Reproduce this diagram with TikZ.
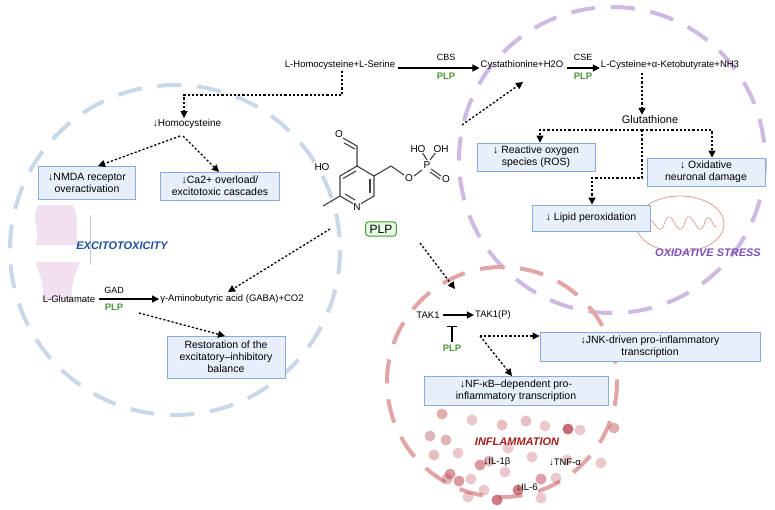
\documentclass[tikz,border=0pt]{standalone}
\usepackage{fontspec}
\setmainfont{Liberation Sans}
\usetikzlibrary{arrows.meta}
\definecolor{bx}{RGB}{231,239,251}
\definecolor{bxb}{RGB}{140,170,215}
\definecolor{plpg}{RGB}{80,150,60}
\definecolor{cblue}{RGB}{200,216,232}
\definecolor{cpurp}{RGB}{205,185,225}
\definecolor{cred}{RGB}{225,165,165}
\definecolor{dotc}{RGB}{185,70,80}
\tikzset{
 txt/.style={font=\fontsize{9.5}{11}\selectfont, inner sep=1pt, align=center},
 box/.style={txt, font=\fontsize{10.5}{12}\selectfont, draw=bxb, fill=bx, line width=0.9pt, minimum height=28pt, inner xsep=3pt},
 dots/.style={dash pattern=on 2.2pt off 2pt, line width=1.3pt, -{Triangle[length=7pt,width=7pt]}},
 solidarr/.style={line width=1.2pt, -{Triangle[length=7pt,width=7pt]}},
 enz/.style={font=\fontsize{9}{10}\selectfont, inner sep=0pt},
 plpl/.style={font=\bfseries\fontsize{9.5}{10}\selectfont, text=plpg, inner sep=0pt},
 ring/.style={dash pattern=on 24pt off 16pt, line width=4pt},
 bond/.style={line width=1.1pt, draw=black!75},
 atom/.style={font=\fontsize{10}{11}\selectfont, inner sep=0.5pt, fill=white},
 lab/.style={font=\bfseries\itshape\fontsize{11}{12}\selectfont}
}
\begin{document}
\begin{tikzpicture}[x=1pt,y=-1pt]
\useasboundingbox (0,0) rectangle (775,509);
% big dashed circles
\draw[ring, cblue] (175,250) circle (165);
\draw[ring, cpurp] (612,160) circle (153);
\draw[ring, cred] (502,382) circle (115);
% inflammation dots
\foreach \x/\y/\c in {442/414/45,472/420/30,430/436/40,446/440/40,434/455/35,458/453/30,447/479/40,459/481/55,471/479/30,480/465/55,489/461/40,502/425/35,508/448/30,526/421/35,545/426/30,568/429/80,580/430/30,614/428/45,567/460/30,601/463/30,532/457/30,541/479/50,505/472/30,518/490/70,484/490/30,468/497/30,497/500/70,541/498/30,450/474/55,556/478/30}
  \fill[dotc, opacity=\c/100] (\x,\y) circle (5.5);
% mitochondrion
\draw[cred!80!brown, line width=0.8pt] (680,224) ellipse (44 and 28);
\draw[cred!80!brown, line width=0.7pt] (645,226) .. controls (652,205) and (658,245) .. (665,222) .. controls (672,202) and (678,246) .. (685,222) .. controls (692,202) and (698,246) .. (705,222) .. controls (710,208) and (714,232) .. (716,226);
% synapse icon
\fill[violet!12] (38,205) .. controls (30,220) and (42,235) .. (35,245) -- (80,245) .. controls (72,235) and (82,220) .. (72,205) -- cycle;
\fill[violet!12] (35,262) .. controls (40,275) and (45,285) .. (42,300) -- (72,300) .. controls (70,285) and (75,275) .. (80,262) -- cycle;
\draw[violet!25, line width=1pt] (90,215) -- (90,265);
\node[txt, lab, text={rgb,255:red,30;green,80;blue,150}] (exc) at (122,246) {EXCITOTOXICITY};
\node[txt, lab, text={rgb,255:red,125;green,80;blue,185}] (oxs) at (708,253) {OXIDATIVE STRESS};
\node[txt, lab, text={rgb,255:red,160;green,30;blue,30}] (infl) at (517,442) {INFLAMMATION};
% top pathway
\node[txt] (hcs) at (340,65) {L-Homocysteine+L-Serine};
\node[txt] (cys) at (522,65) {Cystathionine+H2O};
\node[txt] (lcy) at (670,65) {L-Cysteine+α-Ketobutyrate+NH3};
\draw[solidarr] (hcs.east) ++(2,3) coordinate (a1) -- (cys.west |- a1);
\node[enz] (cbs) at (446,57) {CBS};
\node[plpl] (p1) at (446,76) {PLP};
\draw[solidarr] (cys.east) ++(2,3) coordinate (a2) -- (lcy.west |- a2);
\node[enz] (cse) at (583,57) {CSE};
\node[plpl] (p2) at (583,76) {PLP};
\node[txt, font=\fontsize{11}{12}\selectfont] (glu) at (650,120) {Glutathione};
\draw[dots] (642,73) coordinate (g0) -- (g0 |- glu.north);
\node[box, minimum width=118pt] (ros) at (536,157) {↓ Reactive oxygen\\species (ROS)};
\node[box, minimum width=118pt] (oxd) at (706,172) {↓ Oxidative\\neuronal damage};
\node[box, minimum width=118pt, minimum height=26pt] (lip) at (591,218) {↓ Lipid peroxidation};
\coordinate (gb) at (642,130);
\draw[dots] (gb) -| (ros.north -| 540,0);
\draw[dots] (gb) -| (oxd.north -| 712,0);
\draw[dots] (gb) -- (642,178) -| (lip.north -| 592,0);
% molecule
\coordinate (r1) at (357,166); \coordinate (r2) at (374,176); \coordinate (r3) at (374,196);
\coordinate (r4) at (357,206); \coordinate (r5) at (340,196); \coordinate (r6) at (340,176);
\draw[bond] (r1) -- (r2) -- (r3) -- (r4) -- (r5) -- (r6) -- cycle;
\draw[bond] (356,171) -- (343,178.5);
\draw[bond] (370,179) -- (370,193);
\draw[bond] (345,194) -- (355,200);
\draw[bond] (r1) -- (357,146) -- (343,138);
\draw[bond] (355,149) -- (344,143);
\draw[bond] (r5) -- (323,206);
\draw[bond] (r2) -- (391,166) -- (404,175);
\draw[bond] (414,176) -- (422,170);
\draw[bond] (427,160) -- (422,152);
\draw[bond] (430,160) -- (436,152);
\draw[bond] (431,169) -- (441,176);
\draw[bond] (430,172) -- (440,179);
\node[atom] (oA) at (339,134) {O};
\node[atom] (ho1) at (322,167) {HO};
\node[atom] (nN) at (357,207) {N};
\node[atom] (oB) at (409,178) {O};
\node[atom] (pP) at (427,165) {P};
\node[atom] (ho2) at (418,149) {HO};
\node[atom] (oh2) at (441,149) {OH};
\node[atom] (oC) at (446,179) {O};
\node[txt, font=\fontsize{12}{13}\selectfont, draw=plpg, fill=green!10, rounded corners=3pt, line width=1pt, inner xsep=4pt, inner ysep=3pt] (plp) at (381,229) {PLP};
\draw[dots] (462,125) -- (523,82);
% homocysteine branch
\node[txt, font=\fontsize{10}{11}\selectfont] (hom) at (187,124) {↓Homocysteine};
\draw[dots] (hcs.south) ++(2,0) coordinate (h0) -- (h0 |- 0,95) -| (hom.north -| 184,0);
\node[box, minimum width=97pt, minimum height=33pt] (nmda) at (87,183) {↓NMDA receptor\\overactivation};
\node[box, minimum width=119pt] (ca) at (220,186) {↓Ca2+ overload/\\excitotoxic cascades};
\draw[dots] (180,136) -- (98,166);
\draw[dots] (183,136) -- (219,172);
% GABA
\node[txt] (lg) at (69,299) {L-Glutamate};
\node[txt] (gaba) at (232,299) {γ-Aminobutyric acid (GABA)+CO2};
\draw[solidarr] (lg.east) ++(3,0) coordinate (a3) -- (gaba.west |- a3);
\node[enz] (gad) at (114,290) {GAD};
\node[plpl] (p3) at (114,307) {PLP};
\draw[dots] (330,229) -- (228,292);
\node[box, minimum width=118pt, minimum height=42pt] (rest) at (226,357) {Restoration of the\\excitatory–inhibitory\\balance};
\draw[dots] (139,313) -- (225,336);
% TAK1
\draw[dots] (420,243) -- (455,289);
\node[txt] (tak) at (428,315) {TAK1};
\node[txt] (takp) at (493,315) {TAK1(P)};
\draw[solidarr] (tak.east) ++(2,0) coordinate (a4) -- (takp.west |- a4);
\node[plpl] (p4) at (452,348) {PLP};
\draw[line width=1.1pt] (p4.north) ++(0,-3) coordinate (t0) -- ++(0,-15) coordinate (t1);
\draw[line width=1.1pt] (t1) ++(-5,0) -- ++(10,0);
\node[box, minimum height=29pt, minimum width=220pt] (jnk) at (650,347) {↓JNK-driven pro-inflammatory\\transcription};
\node[box, minimum height=29pt, minimum width=184pt] (nfk) at (516,391) {↓NF-κB–dependent pro-\\inflammatory transcription};
\coordinate (tk) at (480,336);
\draw[dots] (tk) -- (jnk.west |- tk);
\draw[dots] (tk) -- (512,376);
\node[txt, fill=white, fill opacity=0, text opacity=1] (il1) at (497,462) {↓IL-1β};
\node[txt] (tnf) at (565,462) {↓TNF-α};
\node[txt] (il6) at (527,487) {↓IL-6};
\end{tikzpicture}
\end{document}
